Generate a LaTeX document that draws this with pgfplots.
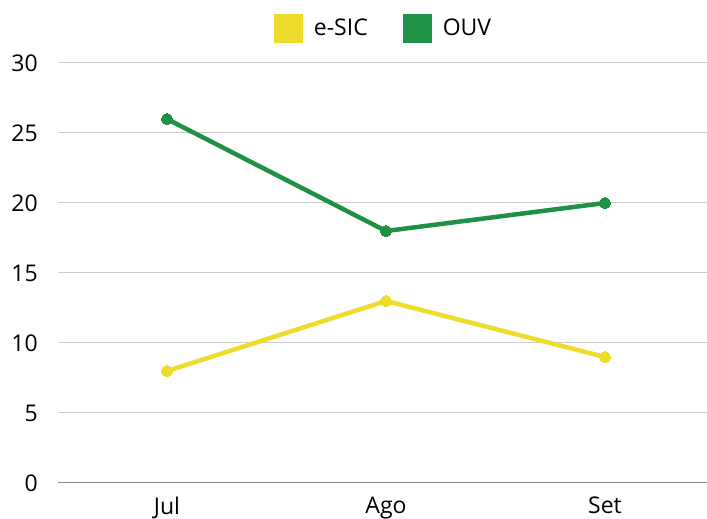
\documentclass[border=0pt]{standalone}
\usepackage{pgfplots}
\pgfplotsset{compat=1.18}
\usepackage{fontspec}
\setmainfont{Open Sans}
\definecolor{cYel}{HTML}{EEDC2C}
\definecolor{cGrn}{HTML}{1E9145}
\definecolor{cGrid}{HTML}{CCCCCC}
\definecolor{cAx}{HTML}{888888}
\begin{document}
\begin{tikzpicture}
\begin{axis}[
  name=ax,
  scale only axis,
  width=649pt, height=420pt,
  xmin=-0.4977, xmax=2.466,
  ymin=0, ymax=30,
  xtick={0,1,2},
  xticklabels={Jul,Ago,Set},
  ytick={0,5,10,15,20,25,30},
  ymajorgrids,
  grid style={cGrid, line width=1pt},
  axis line style={draw=none},
  major tick length=0pt,
  tick style={draw=none},
  font=\fontsize{23}{27}\selectfont,
  /pgf/number format/assume math mode=true,
  yticklabel style={inner sep=0pt, xshift=-20pt},
  xticklabel style={inner sep=0pt, yshift=-14pt},
  legend columns=2,
  legend style={draw=none, fill=none, at={(0.5,1.0833)}, anchor=center,
    inner sep=0pt, nodes={inner sep=0pt},
    /tikz/every odd column/.append style={column sep=11pt},
    /tikz/every even column/.append style={column sep=35pt}},
  legend image code/.code={\fill[#1,draw=none] (0pt,-14.5pt) rectangle (29pt,14.5pt);},
  clip=false,
]
\draw[cAx, line width=1pt] (rel axis cs:0,0) -- (rel axis cs:1,0);
\coordinate (o) at (rel axis cs:0,0);
\addplot[cYel, line width=4.5pt, mark=*, mark size=5.5pt, mark options={draw=cYel, fill=cYel, line width=0pt}]
  coordinates {(0,8) (1,13) (2,9)};
\addlegendentry{e-SIC}
\addplot[cGrn, line width=4.5pt, mark=*, mark size=5.5pt, mark options={draw=cGrn, fill=cGrn, line width=0pt}]
  coordinates {(0,26) (1,18) (2,20)};
\addlegendentry{OUV}
\end{axis}
\pgfresetboundingbox
\path (o) ++(-58pt,-36pt) rectangle ++(707pt,519pt);
\end{tikzpicture}
\end{document}
